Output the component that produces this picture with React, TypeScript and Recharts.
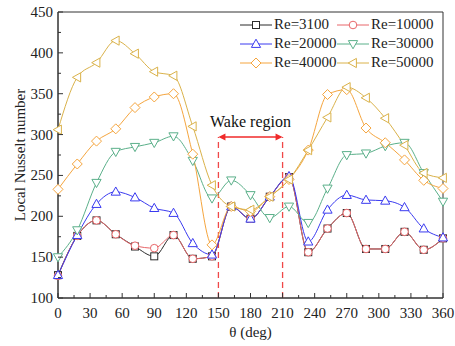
import { LineChart, Line, XAxis, YAxis, ReferenceLine, ReferenceArea, Legend } from 'recharts';

const FONT = 'Liberation Serif, Times New Roman, serif';

// angle along the cylinder surface, deg
const angles = [0, 18, 36, 54, 72, 90, 108, 126, 144, 162, 180, 198, 216, 234, 252, 270, 288, 306, 324, 342, 360];

const re3100 = [128, 176, 195, 178, 163, 151, 177, 148, 151, 212, 197, 224, 248, 156, 185, 204, 160, 160, 181, 159, 173];
const re10000 = [127, 176, 195, 178, 164, 161, 177, 148, 151, 212, 197, 224, 248, 156, 185, 204, 160, 160, 181, 159, 173];
const re20000 = [128, 177, 215, 230, 223, 210, 204, 167, 153, 212, 197, 224, 249, 169, 208, 226, 220, 219, 211, 185, 174];
const re30000 = [150, 183, 241, 279, 285, 290, 298, 268, 222, 244, 226, 198, 212, 192, 234, 275, 277, 286, 290, 253, 218];
const re40000 = [233, 264, 292, 307, 333, 346, 350, 276, 165, 212, 206, 224, 245, 281, 349, 355, 308, 290, 269, 244, 234];
const re50000 = [306, 370, 388, 415, 399, 377, 372, 310, 238, 212, 208, 224, 245, 281, 321, 358, 345, 320, 287, 253, 247];

const xTicks = [0, 15, 30, 45, 60, 75, 90, 105, 120, 135, 150, 165, 180, 195, 210, 225, 240, 255, 270, 285, 300, 315, 330, 345, 360];
const yTicks = [100, 125, 150, 175, 200, 225, 250, 275, 300, 325, 350, 375, 400, 425, 450];

const wakeStart = 150;
const wakeEnd = 210;
const wakeTop = 297;

const series = [
  { key: 're3100', name: 'Re=3100', color: '#2b2b2b', shape: 'square' },
  { key: 're10000', name: 'Re=10000', color: '#e8676a', shape: 'circle' },
  { key: 're20000', name: 'Re=20000', color: '#3a3af0', shape: 'up' },
  { key: 're30000', name: 'Re=30000', color: '#5bb08a', shape: 'down' },
  { key: 're40000', name: 'Re=40000', color: '#f5a53e', shape: 'diamond' },
  { key: 're50000', name: 'Re=50000', color: '#dab24a', shape: 'left' },
];

const values: Record<string, number[]> = { re3100, re10000, re20000, re30000, re40000, re50000 };

const data = angles.map((theta, i) => {
  const row: Record<string, number> = { theta };
  series.forEach((s) => { row[s.key] = values[s.key][i]; });
  return row;
});

const textStyle = { fontFamily: FONT, fontSize: 15 };

function Marker({ cx, cy, shape, color }: { cx: number; cy: number; shape: string; color: string }) {
  const common = { fill: '#fff', stroke: color, strokeWidth: 1 };
  switch (shape) {
    case 'square':
      return <rect x={cx - 3.5} y={cy - 3.5} width={7} height={7} {...common} />;
    case 'circle':
      return <circle cx={cx} cy={cy} r={3.8} {...common} />;
    case 'up':
      return <polygon points={`${cx},${cy - 4.8} ${cx - 4.6},${cy + 3.4} ${cx + 4.6},${cy + 3.4}`} {...common} />;
    case 'down':
      return <polygon points={`${cx},${cy + 4.8} ${cx - 4.6},${cy - 3.4} ${cx + 4.6},${cy - 3.4}`} {...common} />;
    case 'diamond':
      return <polygon points={`${cx},${cy - 5} ${cx + 5},${cy} ${cx},${cy + 5} ${cx - 5},${cy}`} {...common} />;
    default:
      return <polygon points={`${cx - 4.8},${cy} ${cx + 3.4},${cy - 4.6} ${cx + 3.4},${cy + 4.6}`} {...common} />;
  }
}

const XTick = (props: any) => {
  const { x, y, payload } = props;
  const major = payload.value % 30 === 0;
  return (
    <g>
      <line x1={x} y1={y} x2={x} y2={y - (major ? 5 : 3)} stroke="#333" />
      {major && (
        <text x={x} y={y + 20} textAnchor="middle" style={textStyle} fill="#222">
          {payload.value}
        </text>
      )}
    </g>
  );
};

const YTick = (props: any) => {
  const { x, y, payload } = props;
  const major = payload.value % 50 === 0;
  return (
    <g>
      <line x1={x} y1={y} x2={x + (major ? 5 : 3)} y2={y} stroke="#333" />
      {major && (
        <text x={x - 5} y={y + 5} textAnchor="end" style={textStyle} fill="#222">
          {payload.value}
        </text>
      )}
    </g>
  );
};

const Arrow = (props: any) => {
  const { x1, y1, x2, y2 } = props;
  const c = '#f02a2a';
  return (
    <g>
      <line x1={x1 + 4} y1={y1} x2={x2 - 4} y2={y2} stroke={c} strokeWidth={1.5} />
      <polygon points={`${x1},${y1} ${x1 + 7},${y1 - 3.5} ${x1 + 7},${y1 + 3.5}`} fill={c} />
      <polygon points={`${x2},${y2} ${x2 - 7},${y2 - 3.5} ${x2 - 7},${y2 + 3.5}`} fill={c} />
      <text x={(x1 + x2) / 2} y={y1 - 10} textAnchor="middle" style={{ fontFamily: FONT, fontSize: 16 }} fill="#111">
        Wake region
      </text>
    </g>
  );
};

const renderLegend = () => (
  <div style={{ display: 'grid', gridTemplateColumns: '97px 104px', fontFamily: FONT, fontSize: 15, color: '#222', lineHeight: '19px' }}>
    {series.map((s) => (
      <div key={s.key} style={{ display: 'flex', alignItems: 'center', height: 19 }}>
        <svg width={32} height={12} style={{ marginRight: 2 }}>
          <line x1={0} y1={6} x2={32} y2={6} stroke={s.color} strokeWidth={1} />
          <Marker cx={16} cy={6} shape={s.shape} color={s.color} />
        </svg>
        <span>{s.name}</span>
      </div>
    ))}
  </div>
);

export default function App() {
  return (
    <div style={{ position: 'absolute', left: 0, top: 0, background: '#fff' }}>
      <LineChart width={455} height={346} data={data} margin={{ top: 12, right: 12, left: 8, bottom: 8 }}>
        <XAxis
          dataKey="theta"
          type="number"
          domain={[0, 360]}
          ticks={xTicks}
          interval={0}
          tickSize={0}
          tickMargin={0}
          tickLine={false}
          tick={<XTick />}
          height={40}
          stroke="#333"
          label={{
            content: (p: any) => (
              <text x={p.viewBox.x + p.viewBox.width / 2} y={p.viewBox.y + 39} textAnchor="middle" style={textStyle} fill="#222">
                θ (deg)
              </text>
            ),
          }}
        />
        <YAxis
          type="number"
          domain={[100, 450]}
          ticks={yTicks}
          interval={0}
          tickSize={0}
          tickMargin={0}
          tickLine={false}
          tick={<YTick />}
          width={50}
          stroke="#333"
          label={{
            content: (p: any) => {
              const cx = 20;
              const cy = p.viewBox.y + p.viewBox.height / 2;
              return (
                <text x={cx} y={cy} transform={`rotate(-90, ${cx}, ${cy})`} textAnchor="middle" dominantBaseline="central" style={textStyle} fill="#222">
                  Local Nusselt number
                </text>
              );
            },
          }}
        />
        <ReferenceArea x1={0} x2={360} y1={100} y2={450} fill="none" stroke="#333" strokeWidth={1} />
        <ReferenceLine segment={[{ x: wakeStart, y: 100 }, { x: wakeStart, y: wakeTop }]} stroke="#f04848" strokeWidth={1.3} strokeDasharray="6 4" />
        <ReferenceLine segment={[{ x: wakeEnd, y: 100 }, { x: wakeEnd, y: wakeTop }]} stroke="#f04848" strokeWidth={1.3} strokeDasharray="6 4" />
        <ReferenceLine segment={[{ x: wakeStart, y: wakeTop }, { x: wakeEnd, y: wakeTop }]} shape={<Arrow />} />
        {series.map((s) => (
          <Line
            key={s.key}
            type="monotone"
            dataKey={s.key}
            name={s.name}
            stroke={s.color}
            strokeWidth={1}
            isAnimationActive={false}
            dot={(p: any) => <Marker key={`${s.key}-${p.index}`} cx={p.cx} cy={p.cy} shape={s.shape} color={s.color} />}
            activeDot={false}
          />
        ))}
        <Legend
          layout="horizontal"
          verticalAlign="middle"
          align="center"
          content={renderLegend}
          wrapperStyle={{ position: 'absolute', top: 15, left: 240, width: 205, height: 57 }}
        />
      </LineChart>
    </div>
  );
}
